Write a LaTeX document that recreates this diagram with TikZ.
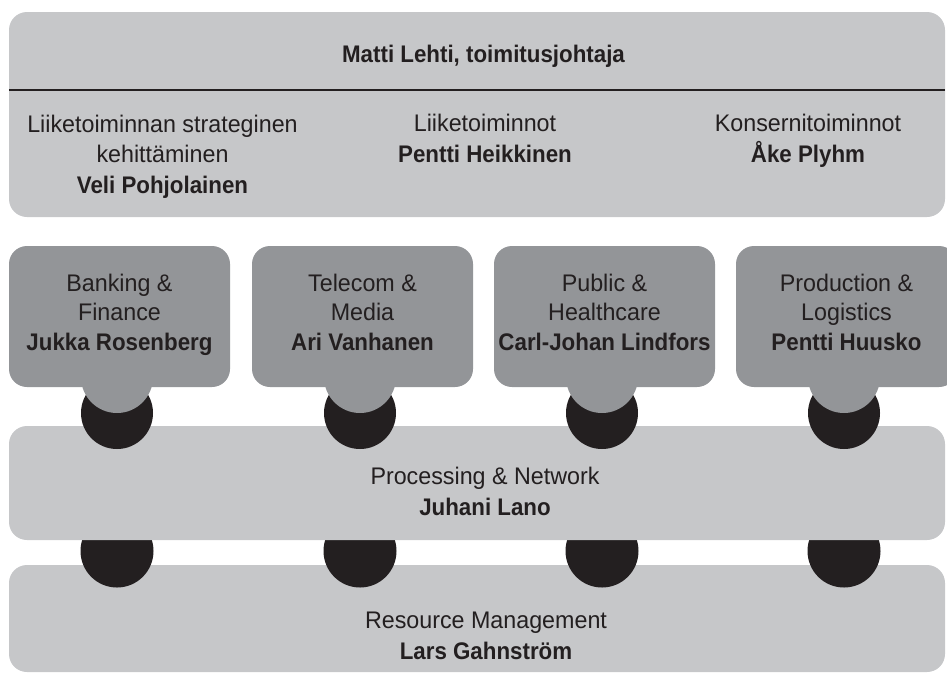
\documentclass[tikz,border=0pt]{standalone}
\usepackage{fontspec}
\setmainfont{Liberation Sans}[FakeStretch=0.97,BoldFeatures={FakeStretch=0.93}]
\definecolor{lightgrey}{HTML}{C6C7C9}
\definecolor{darkgrey}{HTML}{939598}
\definecolor{ink}{HTML}{231F20}
\tikzset{
  band/.style={fill=lightgrey, rounded corners=18pt, inner sep=0pt},
  unit/.style={fill=darkgrey, rounded corners=18pt, minimum width=221pt,
    minimum height=141pt, inner sep=0pt, align=center, text=ink,
    font=\fontsize{24}{29.5}\selectfont, execute at end node={\strut}},
  knob/.style={fill=ink},
  lobe/.style={fill=darkgrey},
  bandtext/.style={anchor=base, align=center, text=ink, inner sep=0pt,
    font=\fontsize{24}{30.5}\selectfont}
}
\begin{document}
\begin{tikzpicture}[x=1pt, y=-1pt]
      \useasboundingbox (0,0) rectangle (947,673);
      \clip (0,0) rectangle (947,673);
      \node[band, minimum width=936pt, minimum height=205pt] (board) at (477,114.5) {};
      \draw[ink, line width=1.8pt] (board.west |- 0,90) -- (board.east |- 0,90);
      \node[bandtext] (ceo) at (483.5,62) {\bfseries Matti Lehti, toimitusjohtaja};
      \node[bandtext] (strategy) at (162.5,193)
        {Liiketoiminnan strateginen\\kehittäminen\\\textbf{Veli Pohjolainen}};
      \node[bandtext] (business) at (485,162)
        {Liiketoiminnot\\\textbf{Pentti Heikkinen}};
      \node[bandtext] (group) at (808,162)
        {Konsernitoiminnot\\\textbf{Åke Plyhm}};

      \node[band, minimum width=936pt, minimum height=107pt] (resource) at (477,618.5) {};
      \begin{scope}[knob]
        \fill (117,551) circle (36.5pt);
        \fill (360,551) circle (36.5pt);
        \fill (602,551) circle (36.5pt);
        \fill (844,551) circle (36.5pt);
      \end{scope}
      \node[band, minimum width=936pt, minimum height=114pt] (process) at (477,483) {};
      \begin{scope}[knob]
        \fill (117,413) circle (36pt);
        \fill (360,413) circle (36pt);
        \fill (602,413) circle (36pt);
        \fill (844,413) circle (36pt);
      \end{scope}
      \begin{scope}[lobe]
        \fill (117,377) circle (36pt);
        \fill (360,377) circle (36pt);
        \fill (602,377) circle (36pt);
        \fill (844,377) circle (36pt);
      \end{scope}
      \node[bandtext] (processtext) at (485,515)
        {Processing \& Network\\\textbf{Juhani Lano}};
      \node[bandtext] (resourcetext) at (486,659)
        {Resource Management\\\textbf{Lars Gahnström}};

      \node[unit] (banking) at (119.5,316.5)
        {Banking \&\\Finance\\\textbf{Jukka Rosenberg}};
      \node[unit] (telecom) at (362.5,316.5)
        {Telecom \&\\Media\\\textbf{Ari Vanhanen}};
      \node[unit] (public) at (604.5,316.5)
        {Public \&\\Healthcare\\\textbf{Carl-Johan Lindfors}};
      \node[unit] (production) at (846.5,316.5)
        {Production \&\\Logistics\\\textbf{Pentti Huusko}};
    \end{tikzpicture}
\end{document}
